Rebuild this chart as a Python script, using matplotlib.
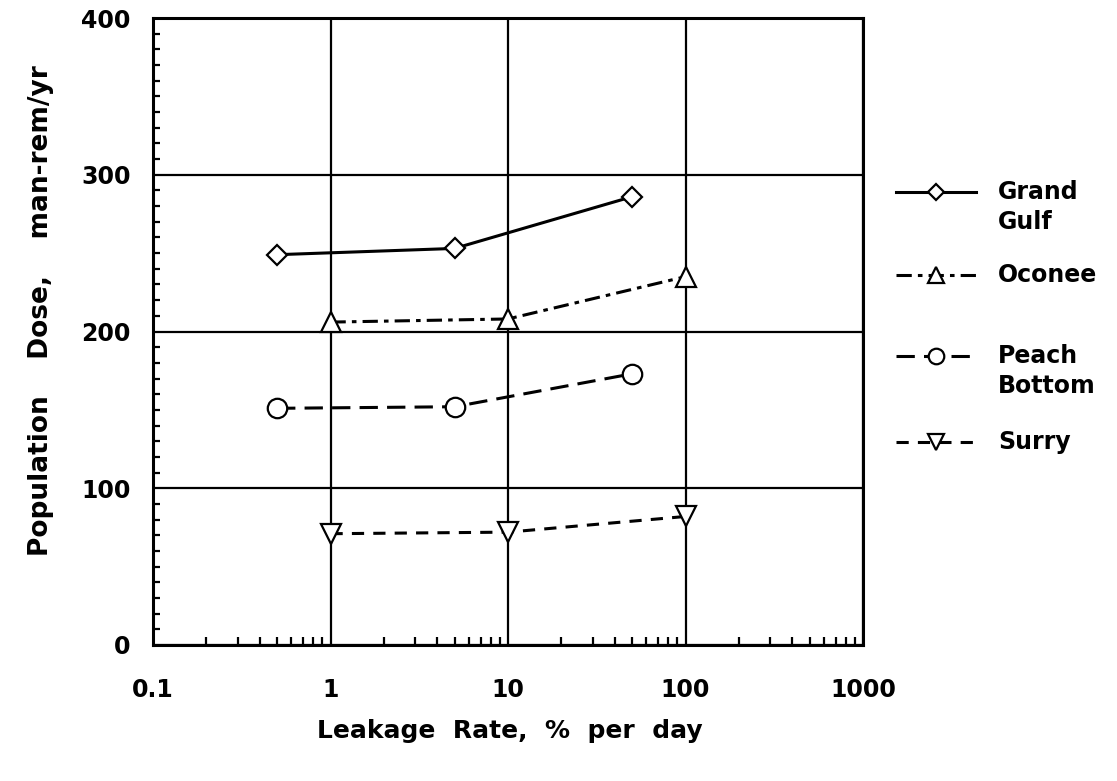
import numpy as np
import matplotlib.pyplot as plt
from matplotlib.lines import Line2D
from matplotlib.ticker import FixedLocator, NullFormatter

plt.rcParams['font.family'] = ['DejaVu Sans']
plt.rcParams['font.weight'] = 'bold'

# series
names = ["Grand Gulf", "Oconee", "Peach Bottom", "Surry"]
legend_labels = ["Grand\nGulf", "Oconee", "Peach\nBottom", "Surry"]
grand_gulf_x = [0.5, 5, 50]
grand_gulf_y = [249, 253, 286]
oconee_x = [1, 10, 100]
oconee_y = [206, 208, 235]
peach_x = [0.5, 5, 50]
peach_y = [151, 152, 173]
surry_x = [1, 10, 100]
surry_y = [71, 72, 82]

x_ticks = [0.1, 1, 10, 100, 1000]
x_tick_labels = ["0.1", "1", "10", "100", "1000"]
y_ticks = [0, 100, 200, 300, 400]

styles = [
    dict(ls='-', marker='D', ms=10),
    dict(ls=(0, (5, 2, 1.5, 2)), marker='^', ms=14),
    dict(ls=(0, (6, 3)), marker='o', ms=14),
    dict(ls=(0, (4, 3)), marker='v', ms=14),
]
series = [(grand_gulf_x, grand_gulf_y), (oconee_x, oconee_y),
          (peach_x, peach_y), (surry_x, surry_y)]

W, H = 1117, 781
fig = plt.figure(figsize=(W / 100, H / 100), dpi=100)
ax = fig.add_axes([153 / W, 1 - 645 / H, (863 - 153) / W, (645 - 18) / H])

ax.set_xscale('log')
ax.set_xlim(0.1, 1000)
ax.set_ylim(0, 400)

for (xs, ys), st in zip(series, styles):
    ax.plot(xs, ys, color='black', lw=2.2, ls=st['ls'], marker=st['marker'],
            ms=st['ms'], mfc='white', mec='black', mew=1.6, zorder=3)

ax.set_xticks(x_ticks)
ax.set_xticklabels(x_tick_labels)
ax.xaxis.set_minor_locator(FixedLocator(
    [m * 10.0 ** e for e in range(-1, 3) for m in range(2, 10)]))
ax.xaxis.set_minor_formatter(NullFormatter())
ax.set_yticks(y_ticks)
ax.yaxis.set_minor_locator(FixedLocator(np.arange(0, 401, 10)))

ax.grid(True, which='major', color='black', lw=1.6)
ax.tick_params(which='both', direction='in', top=False, right=False,
               labelsize=17, width=1.6)
ax.tick_params(axis='x', which='major', length=0, pad=24)
ax.tick_params(axis='y', which='major', length=0, pad=16)
ax.tick_params(axis='x', which='minor', length=6)
ax.tick_params(axis='y', which='minor', length=5)
for s in ax.spines.values():
    s.set_linewidth(2.2)

fig.text(41 / W, 1 - 311 / H, "Population    Dose,    man-rem/yr", rotation=90,
         ha='center', va='center', fontsize=19, fontweight='bold')
fig.text(510 / W, 1 - 731 / H, "Leakage  Rate,  %  per  day",
         ha='center', va='center', fontsize=18, fontweight='bold')

# legend drawn by hand so the handle sits on the first text line
rows = [192, 275, 356, 442]
for lab, st, yp in zip(legend_labels, styles, rows):
    yf = 1 - yp / H
    fig.add_artist(Line2D([896 / W, 936 / W, 976 / W], [yf, yf, yf],
                          transform=fig.transFigure, color='black', lw=2.2,
                          ls=st['ls'], marker=st['marker'],
                          ms=st['ms'] * 0.8, mfc='white', mec='black',
                          mew=1.6, markevery=[1]))
    fig.text(998 / W, yf + 12 / H, lab, ha='left', va='top', fontsize=17,
             fontweight='bold', linespacing=1.3)

fig.savefig('out.png', dpi=100)
